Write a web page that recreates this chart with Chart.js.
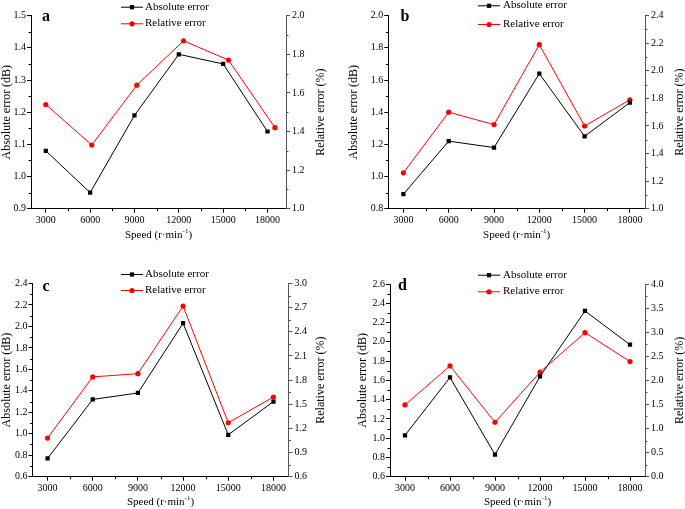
<!DOCTYPE html>
<html>
<head>
<meta charset="utf-8">
<script src="https://cdn.jsdelivr.net/npm/chart.js@4.4.1/dist/chart.umd.min.js"></script>
<style>
html, body { margin: 0; padding: 0; background: #fff; }
#wrap { position: relative; width: 685px; height: 509px; background: #fff; }
canvas { position: absolute; }
</style>
</head>
<body>
<div id="wrap">
    <canvas id="panel-a" width="342" height="254" style="left:0;top:0"></canvas>
    <canvas id="panel-b" width="343" height="254" style="left:342px;top:0"></canvas>
    <canvas id="panel-c" width="342" height="255" style="left:0;top:254px"></canvas>
    <canvas id="panel-d" width="343" height="255" style="left:342px;top:254px"></canvas>
</div>
<script>
// speeds (r/min)
const speeds = [3000, 6000, 9000, 12000, 15000, 18000];
// in panel a the relative-error points sit slightly to the right
const speedsRelA = [3000, 6110, 9160, 12320, 15360, 18500];

const absA = [1.08, 0.95, 1.19, 1.38, 1.35, 1.14];
const relA = [1.54, 1.33, 1.64, 1.87, 1.77, 1.42];
const absB = [0.89, 1.22, 1.18, 1.64, 1.25, 1.46];
const relB = [1.26, 1.70, 1.61, 2.19, 1.60, 1.79];
const absC = [0.77, 1.32, 1.38, 2.03, 0.99, 1.30];
const relC = [1.08, 1.84, 1.88, 2.72, 1.27, 1.59];
const absD = [1.03, 1.63, 0.83, 1.64, 2.32, 1.97];
const relD = [1.49, 2.30, 1.13, 2.17, 2.99, 2.39];

const xTicks = [3000, 6000, 9000, 12000, 15000, 18000];
const absTicksA = [0.9, 1.0, 1.1, 1.2, 1.3, 1.4, 1.5];
const relTicksA = [1.0, 1.2, 1.4, 1.6, 1.8, 2.0];
const absTicksB = [0.8, 1.0, 1.2, 1.4, 1.6, 1.8, 2.0];
const relTicksB = [1.0, 1.2, 1.4, 1.6, 1.8, 2.0, 2.2, 2.4];
const absTicksC = [0.6, 0.8, 1.0, 1.2, 1.4, 1.6, 1.8, 2.0, 2.2, 2.4];
const relTicksC = [0.6, 0.9, 1.2, 1.5, 1.8, 2.1, 2.4, 2.7, 3.0];
const absTicksD = [0.6, 0.8, 1.0, 1.2, 1.4, 1.6, 1.8, 2.0, 2.2, 2.4, 2.6];
const relTicksD = [0.0, 0.5, 1.0, 1.5, 2.0, 2.5, 3.0, 3.5, 4.0];

const SERIF = "'Liberation Serif', 'Times New Roman', serif";

function toPoints(xs, ys) {
    return xs.map((x, i) => ({ x: x, y: ys[i] }));
}

// short minor ticks half way between the labelled ones
const minorTicks = {
    id: 'minorTicks',
    afterDraw(chart) {
        const ctx = chart.ctx;
        ctx.save();
        ctx.lineWidth = 1;
        Object.values(chart.scales).forEach(s => {
            const vals = s.ticks.map(t => t.value);
            ctx.strokeStyle = s.options.border.color;
            for (let i = 0; i < vals.length - 1; i++) {
                const v = (vals[i] + vals[i + 1]) / 2;
                const p = Math.round(s.getPixelForValue(v)) + 0.5;
                ctx.beginPath();
                if (s.axis === 'x') {
                    ctx.moveTo(p, s.top); ctx.lineTo(p, s.top + 2.5);
                } else if (s.position === 'left') {
                    ctx.moveTo(s.right, p); ctx.lineTo(s.right - 2.5, p);
                } else {
                    ctx.moveTo(s.left, p); ctx.lineTo(s.left + 2.5, p);
                }
                ctx.stroke();
            }
        });
        ctx.restore();
    }
};

// panel letter, legend, right axis title and x axis title
const decor = {
    id: 'decor',
    afterDraw(chart, args, o) {
        const ctx = chart.ctx;
        const area = chart.chartArea;
        ctx.save();
        ctx.fillStyle = '#000';

        ctx.font = 'bold 16px ' + SERIF;
        ctx.textAlign = 'center';
        ctx.textBaseline = 'middle';
        ctx.fillText(o.letter, o.letterX, o.letterY);

        chart.data.datasets.forEach((ds, i) => {
            const y = o.legendY[i];
            ctx.strokeStyle = ds.borderColor;
            ctx.lineWidth = 1;
            ctx.beginPath();
            ctx.moveTo(o.legendX, y + 0.5);
            ctx.lineTo(o.legendX + 22, y + 0.5);
            ctx.stroke();
            ctx.fillStyle = ds.pointBackgroundColor;
            Chart.helpers.drawPoint(ctx, { pointStyle: ds.pointStyle, radius: ds.pointRadius, borderWidth: 0, rotation: 0 }, o.legendX + 11, y + 0.5);
            ctx.fillStyle = '#000';
            ctx.font = '11px ' + SERIF;
            ctx.textAlign = 'left';
            ctx.fillText(ds.label, o.legendTextX, y);
        });

        // right title reads bottom to top like the left one
        ctx.save();
        ctx.translate(o.rightTitleX, (area.top + area.bottom) / 2);
        ctx.rotate(-Math.PI / 2);
        ctx.font = '12px ' + SERIF;
        ctx.textAlign = 'center';
        ctx.fillText('Relative error (%)', 0, 0);
        ctx.restore();

        // x title with superscript
        const main = 'Speed (r\u00b7min';
        const sup = '-1';
        ctx.font = '11px ' + SERIF;
        const w1 = ctx.measureText(main).width;
        const w3 = ctx.measureText(')').width;
        ctx.font = '7px ' + SERIF;
        const w2 = ctx.measureText(sup).width;
        let x = (area.left + area.right) / 2 - (w1 + w2 + w3) / 2;
        ctx.textAlign = 'left';
        ctx.font = '11px ' + SERIF;
        ctx.fillText(main, x, o.xTitleY);
        ctx.font = '7px ' + SERIF;
        ctx.fillText(sup, x + w1, o.xTitleY - 4);
        ctx.font = '11px ' + SERIF;
        ctx.fillText(')', x + w1 + w2, o.xTitleY);
        ctx.restore();
    }
};

function makePanel(id, p) {
    const axisCommon = {
        border: { display: true, color: '#000', width: 1 },
        grid: { display: true, drawOnChartArea: false, drawTicks: true, tickLength: 4, tickColor: '#000' },
    };
    const ctx = document.getElementById(id).getContext('2d');
    return new Chart(ctx, {
        type: 'line',
        data: {
            datasets: [{
                label: 'Absolute error',
                data: toPoints(p.absX, p.abs),
                yAxisID: 'y',
                borderColor: '#000000',
                backgroundColor: '#000000',
                pointBackgroundColor: '#000000',
                pointStyle: 'rect',
                pointRadius: 3,
                pointBorderWidth: 0,
                borderWidth: 1,
                tension: 0
            }, {
                label: 'Relative error',
                data: toPoints(p.relX, p.rel),
                yAxisID: 'y1',
                borderColor: '#ff0000',
                backgroundColor: '#ff0000',
                pointBackgroundColor: '#ff0000',
                pointStyle: 'circle',
                pointRadius: 2.6,
                pointBorderWidth: 0,
                borderWidth: 1,
                tension: 0
            }]
        },
        options: {
            responsive: false,
            animation: false,
            devicePixelRatio: 1,
            layout: { padding: { left: p.padLeft, top: p.padTop, right: 0, bottom: 0 } },
            plugins: {
                legend: { display: false },
                tooltip: { enabled: false },
                decor: p.decor
            },
            scales: {
                x: {
                    type: 'linear',
                    min: p.xMin,
                    max: p.xMax,
                    ...axisCommon,
                    afterBuildTicks: s => { s.ticks = xTicks.map(v => ({ value: v })); },
                    afterFit: s => { s.height = p.xHeight; },
                    ticks: {
                        autoSkip: false, maxRotation: 0, padding: 2, color: '#000',
                        font: { family: SERIF, size: 10 },
                        callback: v => String(v)
                    }
                },
                y: {
                    type: 'linear',
                    position: 'left',
                    min: p.absTicks[0],
                    max: p.absTicks[p.absTicks.length - 1],
                    ...axisCommon,
                    afterBuildTicks: s => { s.ticks = p.absTicks.map(v => ({ value: v })); },
                    afterFit: s => { s.width = p.leftWidth; },
                    ticks: {
                        padding: 1, color: '#000',
                        font: { family: SERIF, size: 10 },
                        callback: v => v.toFixed(1)
                    },
                    title: {
                        display: true, text: 'Absolute error (dB)', color: '#000',
                        font: { family: SERIF, size: 12 }, padding: 0
                    }
                },
                y1: {
                    type: 'linear',
                    position: 'right',
                    min: p.relTicks[0],
                    max: p.relTicks[p.relTicks.length - 1],
                    border: { display: true, color: '#555', width: 1 },
                    grid: { display: true, drawOnChartArea: false, drawTicks: true, tickLength: 4, tickColor: '#555' },
                    afterBuildTicks: s => { s.ticks = p.relTicks.map(v => ({ value: v })); },
                    afterFit: s => { s.width = p.rightWidth; },
                    ticks: {
                        padding: 2, color: '#000',
                        font: { family: SERIF, size: 10 },
                        callback: v => v.toFixed(1)
                    }
                }
            }
        },
        plugins: [minorTicks, decor]
    });
}

makePanel('panel-a', {
    absX: speeds, abs: absA, relX: speedsRelA, rel: relA,
    absTicks: absTicksA, relTicks: relTicksA,
    xMin: 2000, xMax: 19250,
    padLeft: 0, padTop: 15.7, leftWidth: 31, rightWidth: 56, xHeight: 45.3,
    decor: { letter: 'a', letterX: 46, letterY: 17, legendX: 121, legendTextX: 145, legendY: [6.7, 23.3], rightTitleX: 321, xTitleY: 235 }
});
makePanel('panel-b', {
    absX: speeds, abs: absB, relX: speeds, rel: relB,
    absTicks: absTicksB, relTicks: relTicksB,
    xMin: 2000, xMax: 19000,
    padLeft: 4.3, padTop: 15.7, leftWidth: 42, rightWidth: 40, xHeight: 45.3,
    decor: { letter: 'b', letterX: 63, letterY: 17, legendX: 136, legendTextX: 161, legendY: [5.3, 24], rightTitleX: 337.5, xTitleY: 235 }
});
makePanel('panel-c', {
    absX: speeds, abs: absC, relX: speeds, rel: relC,
    absTicks: absTicksC, relTicks: relTicksC,
    xMin: 2000, xMax: 19000,
    padLeft: 0, padTop: 29.5, leftWidth: 32.5, rightWidth: 53.5, xHeight: 32.3,
    decor: { letter: 'c', letterX: 46, letterY: 33, legendX: 121, legendTextX: 145, legendY: [20, 36], rightTitleX: 321, xTitleY: 248 }
});
makePanel('panel-d', {
    absX: speeds, abs: absD, relX: speeds, rel: relD,
    absTicks: absTicksD, relTicks: relTicksD,
    xMin: 2000, xMax: 19000,
    padLeft: 14, padTop: 30, leftWidth: 34, rightWidth: 40, xHeight: 32.3,
    decor: { letter: 'd', letterX: 60.5, letterY: 32, legendX: 136, legendTextX: 161, legendY: [20.7, 37.3], rightTitleX: 337.5, xTitleY: 248 }
});
</script>
</body>
</html>
